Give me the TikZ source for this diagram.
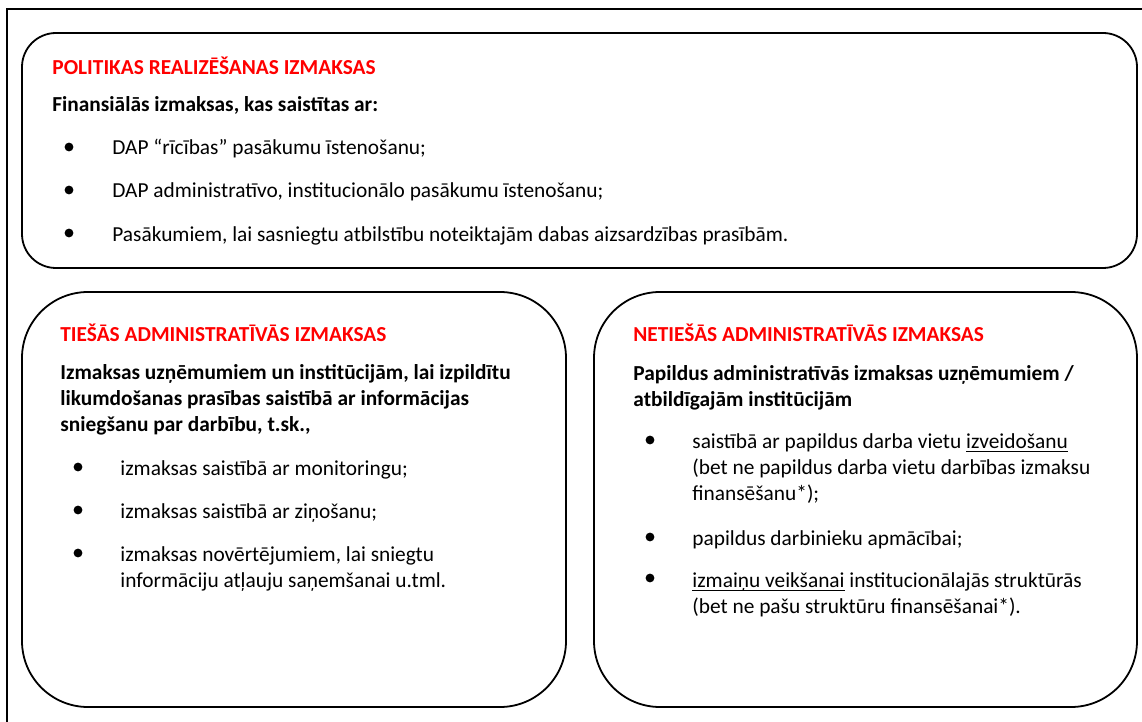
\documentclass[tikz,border=0pt]{standalone}
\usepackage{fontspec}
\setmainfont{Carlito}
\usepackage{tikz}

\newcommand\undl[1]{\underline{\raisebox{0pt}[\height][0pt]{#1}}}
\newcommand\boxfont{\fontsize{10.68}{12.9}\selectfont}

\tikzset{
  frame/.style={line width=0.9pt},
  costbox/.style={line width=0.9pt},
  heading/.style={anchor=base west,text=red,font=\boxfont\bfseries},
  % multi-line texts sit on the baseline of their last line
  lead/.style={anchor=base west,align=left,font=\boxfont\bfseries},
  item/.style={anchor=base west,align=left,font=\boxfont},
  dot/.style={circle,fill,inner sep=0pt,minimum size=4.4pt}
}

\begin{document}
\begin{tikzpicture}[x=0.5pt,y=-0.5pt,
    every node/.append style={inner sep=0pt}]
  \useasboundingbox
    (0,0)
    rectangle
    (1142,722);
  % outer frame
  \draw[frame]
    (7,722)
    -- (7,9)
    -- (1142,9);
  % boxes
  \draw[costbox,rounded corners=17pt]
    (22,33)
    rectangle
    (1137,268);
  \draw[costbox,rounded corners=33pt]
    (22,292)
    rectangle
    (566,707);
  \draw[costbox,rounded corners=33pt]
    (594,292)
    rectangle
    (1137,707);

  % politikas realizesana
  \node[heading] (polhead) at (52,75)
    {POLITIKAS REALIZĒŠANAS IZMAKSAS};
  \node[lead] (pollead) at (52,112)
    {Finansiālās izmaksas, kas saistītas ar:};
  \node[dot] (poldota) at (69,147) {};
  \node[item] (politema) at (112,155)
    {DAP “rīcības” pasākumu īstenošanu;};
  \node[dot] (poldotb) at (69,190) {};
  \node[item] (politemb) at (112,198)
    {DAP administratīvo, institucionālo pasākumu īstenošanu;};
  \node[dot] (poldotc) at (69,233) {};
  \node[item] (politemc) at (112,242)
    {Pasākumiem, lai sasniegtu atbilstību noteiktajām dabas aizsardzības prasībām.};

  % tiesas izmaksas
  \node[heading] (tieshead) at (60,342)
    {TIEŠĀS ADMINISTRATĪVĀS IZMAKSAS};
  \node[lead] (tieslead) at (60,431)
    {Izmaksas uzņēmumiem un institūcijām, lai izpildītu\\
     likumdošanas prasības saistībā ar informācijas\\
     sniegšanu par darbību, t.sk.,};
  \node[dot] (tiesdota) at (78,467) {};
  \node[item] (tiesitema) at (120,475)
    {izmaksas saistībā ar monitoringu;};
  \node[dot] (tiesdotb) at (78,510) {};
  \node[item] (tiesitemb) at (120,518)
    {izmaksas saistībā ar ziņošanu;};
  \node[dot] (tiesdotc) at (78,553) {};
  \node[item] (tiesitemc) at (120,587)
    {izmaksas novērtējumiem, lai sniegtu\\
     informāciju atļauju saņemšanai u.tml.};

  % netiesas izmaksas
  \node[heading] (nethead) at (633,342)
    {NETIEŠĀS ADMINISTRATĪVĀS IZMAKSAS};
  \node[lead] (netlead) at (633,406)
    {Papildus administratīvās izmaksas uzņēmumiem /\\
     atbildīgajām institūcijām};
  \node[dot] (netdota) at (650,440) {};
  \node[item] (netitema) at (692,500)
    {saistībā ar papildus darba vietu \undl{izveidošanu}\\
     (bet ne papildus darba vietu darbības izmaksu\\
     finansēšanu*);};
  \node[dot] (netdotb) at (650,537) {};
  \node[item] (netitemb) at (692,545)
    {papildus darbinieku apmācībai;};
  \node[dot] (netdotc) at (650,578) {};
  \node[item] (netitemc) at (692,613)
    {\undl{izmaiņu veikšanai} institucionālajās struktūrās\\
     (bet ne pašu struktūru finansēšanai*).};
\end{tikzpicture}
\end{document}
